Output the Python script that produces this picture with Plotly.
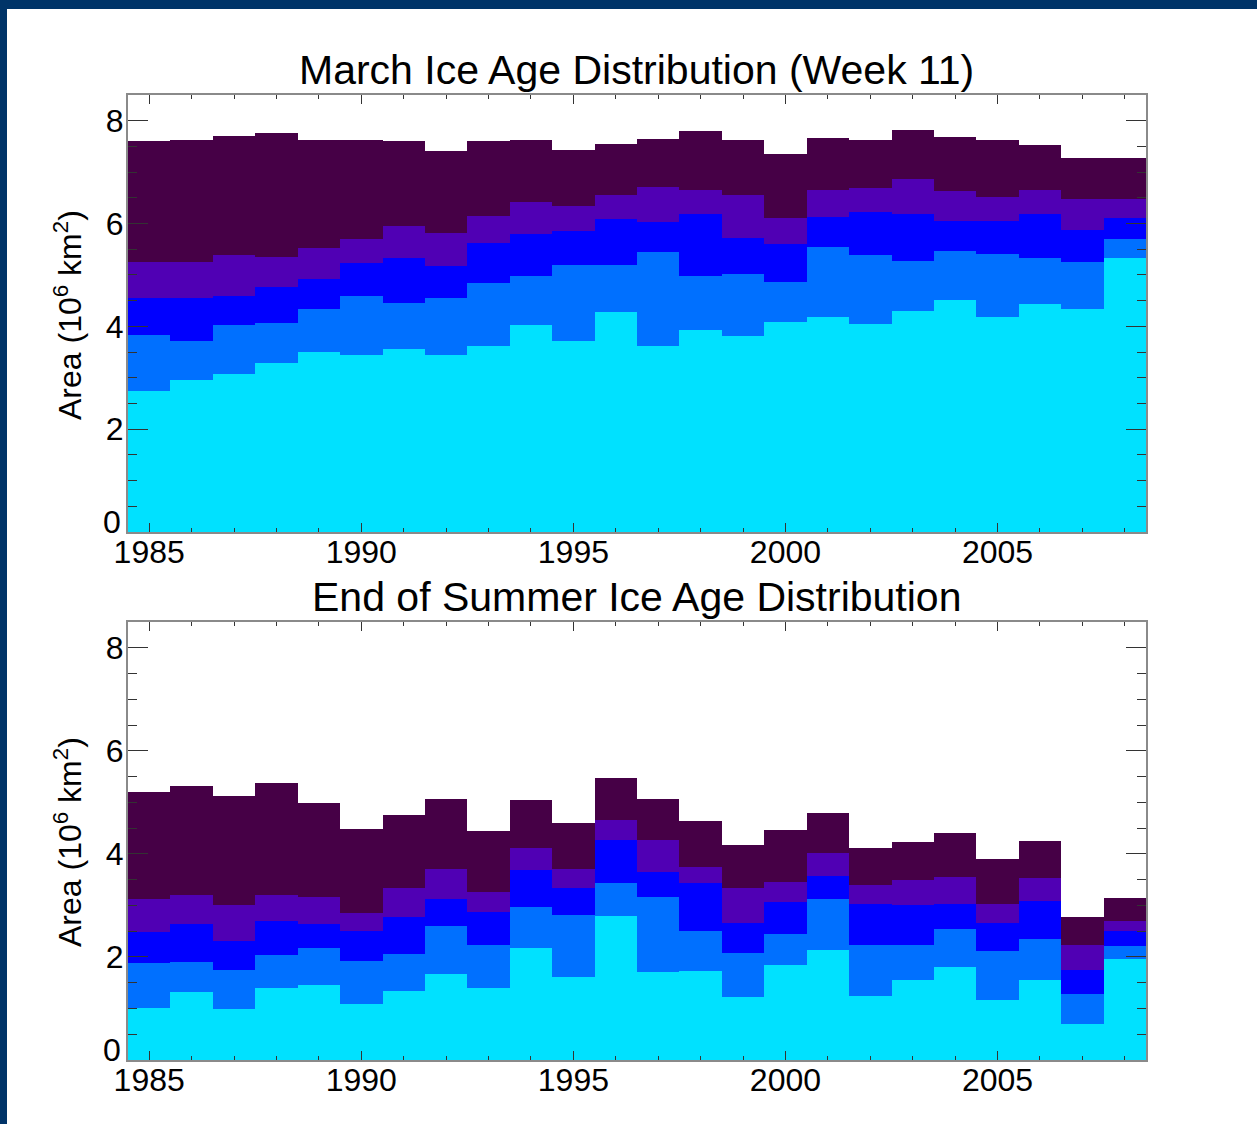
import numpy as np
import plotly.graph_objects as go

years = list(range(1985, 2009))
y_tick_vals = [2, 4, 6, 8]

# ---- March (Week 11): cumulative tops of each age layer (10^6 km^2) ----
mar_total = [7.60, 7.63, 7.71, 7.76, 7.63, 7.62, 7.60, 7.41, 7.60, 7.63, 7.44, 7.55,
             7.64, 7.80, 7.63, 7.35, 7.67, 7.63, 7.81, 7.69, 7.63, 7.52, 7.28, 7.28]
mar_top4 = [5.25, 5.26, 5.38, 5.34, 5.53, 5.70, 5.96, 5.82, 6.14, 6.42, 6.34, 6.56,
            6.71, 6.66, 6.55, 6.11, 6.65, 6.69, 6.87, 6.63, 6.52, 6.66, 6.48, 6.47]
mar_top3 = [4.55, 4.56, 4.60, 4.76, 4.93, 5.24, 5.32, 5.17, 5.63, 5.80, 5.86, 6.09,
            6.03, 6.18, 5.72, 5.61, 6.13, 6.22, 6.18, 6.04, 6.05, 6.18, 5.87, 6.11]
mar_top2 = [3.83, 3.71, 4.02, 4.06, 4.34, 4.59, 4.46, 4.55, 4.84, 4.98, 5.20, 5.19,
            5.45, 4.97, 5.02, 4.87, 5.55, 5.39, 5.28, 5.46, 5.40, 5.33, 5.26, 5.70]
mar_top1 = [2.74, 2.96, 3.07, 3.28, 3.50, 3.45, 3.56, 3.45, 3.62, 4.03, 3.71, 4.28,
            3.61, 3.92, 3.82, 4.08, 4.18, 4.04, 4.29, 4.52, 4.19, 4.44, 4.34, 5.33]

# ---- End of summer: cumulative tops ----
sep_total = [5.21, 5.32, 5.12, 5.37, 4.98, 4.48, 4.75, 5.07, 4.44, 5.04, 4.59, 5.48,
             5.06, 4.63, 4.17, 4.46, 4.80, 4.12, 4.23, 4.40, 3.91, 4.25, 2.77, 3.15]
sep_top4 = [3.13, 3.21, 3.00, 3.20, 3.17, 2.86, 3.34, 3.71, 3.26, 4.12, 3.71, 4.66,
            4.27, 3.75, 3.33, 3.46, 4.01, 3.39, 3.50, 3.55, 3.03, 3.54, 2.24, 2.69]
sep_top3 = [2.48, 2.64, 2.30, 2.69, 2.64, 2.50, 2.77, 3.13, 2.87, 3.69, 3.34, 4.26,
            3.65, 3.44, 2.66, 3.06, 3.58, 3.02, 3.00, 3.02, 2.66, 3.08, 1.75, 2.50]
sep_top2 = [1.88, 1.91, 1.74, 2.04, 2.17, 1.93, 2.06, 2.60, 2.23, 2.97, 2.82, 3.44,
            3.16, 2.50, 2.08, 2.45, 3.13, 2.24, 2.24, 2.54, 2.12, 2.34, 1.28, 2.22]
sep_top1 = [1.01, 1.32, 0.99, 1.40, 1.45, 1.08, 1.34, 1.67, 1.40, 2.17, 1.62, 2.79,
            1.71, 1.72, 1.22, 1.85, 2.13, 1.25, 1.56, 1.80, 1.17, 1.56, 0.70, 1.96]

layer_colors = ["#00E1FF", "#0070FF", "#0000FF", "#5000B4", "#460046"]

W, H = 1257, 1124
px = lambda x: x / W
py = lambda y: 1 - y / H

FONT = "Liberation Sans, Arial, Helvetica, sans-serif"

fig = go.Figure()

def add_stack(tops, xa, ya):
    prev = np.zeros(len(years))
    for tops_i, col in zip(tops, layer_colors):
        t = np.array(tops_i)
        fig.add_trace(go.Bar(x=years, y=t - prev, base=prev, width=1.0,
                             marker=dict(color=col, line=dict(width=0)),
                             xaxis=xa, yaxis=ya, showlegend=False, hoverinfo="skip"))
        prev = t

add_stack([mar_top1, mar_top2, mar_top3, mar_top4, mar_total], "x", "y")
add_stack([sep_top1, sep_top2, sep_top3, sep_top4, sep_total], "x2", "y2")

xcommon = dict(range=[1984.5, 2008.5], tick0=1985, dtick=5, ticks="inside", ticklen=9,
               tickwidth=1.3, tickcolor="#333333", showline=True, linecolor="#8a8a8a",
               linewidth=2, mirror="allticks", showgrid=False, zeroline=False,
               automargin=False, ticklabelstandoff=-9,
               tickfont=dict(family=FONT, size=32, color="black"),
               minor=dict(dtick=1, ticks="inside", ticklen=4, tickcolor="#333333", tickwidth=1.2))
ycommon = dict(range=[0, 8.5], tickmode="array", tickvals=y_tick_vals,
               ticks="inside", ticklen=20,
               tickwidth=1.3, tickcolor="#333333", showline=True, linecolor="#8a8a8a",
               linewidth=2, mirror="allticks", showgrid=False, zeroline=False,
               automargin=False, ticklabelstandoff=-4,
               tickfont=dict(family=FONT, size=32, color="black"),
               minor=dict(tick0=0, dtick=0.5, ticks="inside", ticklen=9, tickcolor="#333333",
                          tickwidth=1.2))

fig.update_layout(
    width=W, height=H, margin=dict(l=0, r=0, t=0, b=0),
    paper_bgcolor="white", plot_bgcolor="white",
    barmode="overlay", bargap=0,
    xaxis=dict(domain=[px(128), px(1146)], anchor="y", **xcommon),
    yaxis=dict(domain=[py(532), py(95)], anchor="x", **ycommon),
    xaxis2=dict(domain=[px(128), px(1146)], anchor="y2", **xcommon),
    yaxis2=dict(domain=[py(1060), py(622)], anchor="x2", **ycommon),
    font=dict(family=FONT, color="black"),
)

# "0" label sits just above the bottom axis line, as in the original
for yr in ["y", "y2"]:
    fig.add_annotation(text="0", xref="paper", yref=yr, x=px(123), y=0,
                       xanchor="right", yanchor="bottom", yshift=-10, showarrow=False,
                       font=dict(family=FONT, size=32, color="black"))

# navy border strips
fig.add_shape(type="rect", xref="paper", yref="paper", x0=0, x1=1, y0=py(9), y1=1,
              fillcolor="#003468", line=dict(width=0), layer="above")
fig.add_shape(type="rect", xref="paper", yref="paper", x0=0, x1=px(7), y0=0, y1=1,
              fillcolor="#003468", line=dict(width=0), layer="above")

titles = [("March Ice Age Distribution (Week 11)", 70), ("End of Summer Ice Age Distribution", 597)]
for txt, yc in titles:
    fig.add_annotation(text=txt, xref="paper", yref="paper", x=px(636), y=py(yc),
                       xanchor="center", yanchor="middle", showarrow=False,
                       font=dict(family=FONT, size=41, color="black"))

for yc in [315, 842]:
    fig.add_annotation(text="Area (10<sup>6</sup> km<sup>2</sup>)", xref="paper", yref="paper",
                       x=px(68), y=py(yc), xanchor="center", yanchor="middle", textangle=-90,
                       showarrow=False, font=dict(family=FONT, size=32, color="black"))

fig.write_html("out.html")
